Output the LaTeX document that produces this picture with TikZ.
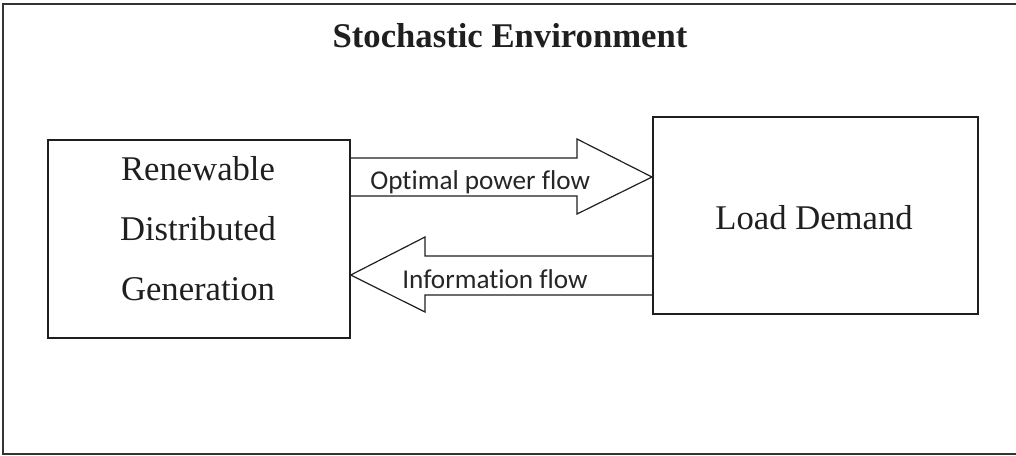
\documentclass[tikz,border=0pt]{standalone}
\usepackage{fontspec}
\setmainfont{Liberation Serif}
\newfontfamily\calfont[Ligatures={NoCommon,NoContextual}]{Carlito}
\begin{document}
\begin{tikzpicture}[x=0.75pt,y=-0.75pt,
  boxstyle/.style={draw=black!88,line width=1.3pt,inner sep=0pt,anchor=north west},
  bigtext/.style={font=\fontsize{26}{30}\selectfont,anchor=base,inner sep=0pt,text=black!88},
  flowtext/.style={font=\calfont\fontsize{20.4}{24}\selectfont,anchor=base west,inner sep=0pt,text=black!85},
  arrowshape/.style={draw=black!88,line width=0.9pt,line join=miter}]
\useasboundingbox (0,0) rectangle (1016,455);
% outer frame
\draw[draw=black!80,line width=1.5pt] (3,4) rectangle (1030,454);
\node[bigtext,font=\bfseries\fontsize{26}{30}\selectfont] (title) at (510,47) {Stochastic Environment};
% boxes
\node[boxstyle,minimum width=302*0.75pt,minimum height=198*0.75pt] (rdg) at (47,139) {};
\node[boxstyle,minimum width=325*0.75pt,minimum height=197*0.75pt] (load) at (652,116) {};
\node[bigtext] (t1) at (198,180) {Renewable};
\node[bigtext] (t2) at (198,240) {Distributed};
\node[bigtext] (t3) at (198,300) {Generation};
\node[bigtext] (t4) at (814,229) {Load Demand};
% upper block arrow
\coordinate (a1) at (rdg.east |- 0,158);
\coordinate (a2) at (rdg.east |- 0,196);
\coordinate (atip) at (load.west |- 0,177);
\draw[arrowshape] (a1) -- (577,158) -- (577,139) -- (atip) -- (577,214) -- (577,196) -- (a2);
\node[flowtext] (opf) at (370,189) {Optimal power flow};
% lower block arrow
\coordinate (b1) at (load.west |- 0,256);
\coordinate (b2) at (load.west |- 0,295);
\coordinate (btip) at (rdg.east |- 0,275);
\draw[arrowshape] (b1) -- (425,256) -- (425,237) -- (btip) -- (425,312) -- (425,295) -- (b2);
\node[flowtext] (inf) at (402,288) {Information flow};
\end{tikzpicture}
\end{document}
